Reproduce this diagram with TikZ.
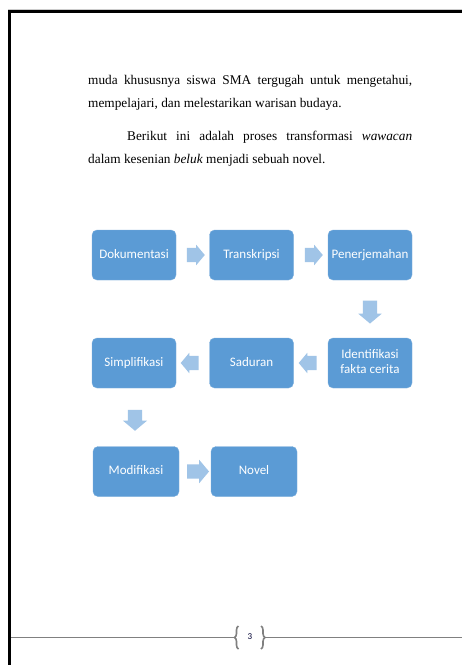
\documentclass[tikz,border=0pt]{standalone}
\usepackage{fontspec}
\setmainfont{Liberation Serif}
\newfontfamily\boxfont{Carlito}
\usetikzlibrary{positioning, calc, shapes.arrows, decorations.pathreplacing}

\definecolor{boxblue}{RGB}{91,155,213}
\definecolor{arrowblue}{RGB}{160,196,231}
\definecolor{rulegray}{RGB}{128,128,128}
\newcommand{\boxstrut}{\rule[-2.5pt]{0pt}{11pt}}

\begin{document}
\begin{tikzpicture}[x=1pt, y=-1pt,
		stepbox/.style={align=center, fill=boxblue, draw=boxblue!80!white, line width=0.4pt,
			rounded corners=5pt, minimum width=84pt, minimum height=50pt, inner sep=1pt,
			text=white, font=\boxfont\fontsize{13}{15}\selectfont,
			execute at begin node=\boxstrut, execute at end node=\boxstrut},
		blockarrow/.style={single arrow, fill=arrowblue, draw=none, inner xsep=0pt, inner ysep=7pt,
			minimum height=18pt, minimum width=0pt, single arrow head extend=3pt,
			single arrow tip angle=100},
		bodyline/.style={anchor=base west, inner sep=0pt, font=\fontsize{13.3}{16}\selectfont},
	]
		\useasboundingbox (0, 0) rectangle (462, 665);
		\fill[white] (0, 0) rectangle (462, 665);
		% page frame
		\draw[gray!40, line width=0.8pt] (8, 9) -- (462, 9);
		\draw[black, line width=2.6pt] (8, 11.5) -- (462, 11.5);
		\draw[black, line width=3pt] (9.5, 10) -- (9.5, 665);

		% body text
		\node[bodyline] (l1) at (88, 84) {\makebox[324pt][s]{muda khususnya siswa SMA tergugah untuk mengetahui,}};
		\node[bodyline] (l2) at (88, 107) {mempelajari, dan melestarikan warisan budaya.};
		\node[bodyline] (l3) at (127, 140) {\makebox[285pt][s]{Berikut ini adalah proses transformasi \textit{wawacan}}};
		\node[bodyline] (l4) at (88, 163) {dalam kesenian \textit{beluk} menjadi sebuah novel.};

		% process boxes
		\node[stepbox] (dok) at (134, 255) {Dokumentasi};
		\node[stepbox] (trans) at (251.5, 255) {Transkripsi};
		\node[stepbox] (terj) at (370, 255) {Penerjemahan};
		\node[stepbox] (ident) at (370, 363) {Identifikasi\\fakta cerita};
		\node[stepbox] (sadur) at (251.5, 363) {Saduran};
		\node[stepbox] (simpl) at (134, 363) {Simplifikasi};
		\node[stepbox, minimum width=86pt] (modif) at (136, 471.5) {Modifikasi};
		\node[stepbox, minimum width=86pt] (novel) at (254, 471.5) {Novel};

		% arrows between boxes
		\node[blockarrow] (a1) at ($(dok.east)!0.5!(trans.west)$) {};
		\node[blockarrow] (a2) at ($(trans.east)!0.5!(terj.west)$) {};
		\node[blockarrow, rotate=-90, minimum height=23pt, single arrow head extend=4.5pt] (a3) at ($(terj.south)!0.5!(ident.north)$) {};
		\node[blockarrow, rotate=180] (a4) at ($(ident.west)!0.5!(sadur.east)$) {};
		\node[blockarrow, rotate=180] (a5) at ($(sadur.west)!0.5!(simpl.east)$) {};
		\node[blockarrow, rotate=-90, minimum height=21pt, single arrow head extend=5pt] (a6) at ($(simpl.south)!0.5!(modif.north)$) {};
		\node[blockarrow, minimum height=22pt, single arrow head extend=4.5pt] (a7) at ($(modif.east)!0.5!(novel.west)$) {};

		% footer
		\node[inner sep=0pt, font=\boxfont\fontsize{9}{10}\selectfont, text=black!80!blue] (pgnum) at (250, 637) {3};
		\coordinate (lbtop) at (238.5, 626);
		\coordinate (lbbot) at (238.5, 649);
		\coordinate (rbtop) at (261, 626);
		\coordinate (rbbot) at (261, 649);
		\coordinate (lbtip) at (234.5, 637);
		\coordinate (rbtip) at (265, 637);
		\coordinate (footl) at (11, 637);
		\coordinate (footr) at (462, 637);
		\draw[rulegray, line width=1.6pt, decorate, decoration={brace, amplitude=4pt}] (lbbot) -- (lbtop);
		\draw[rulegray, line width=1.6pt, decorate, decoration={brace, amplitude=4pt}] (rbtop) -- (rbbot);
		\draw[rulegray, line width=1pt] (footl) -- (lbtip);
		\draw[rulegray, line width=1pt] (rbtip) -- (footr);
	\end{tikzpicture}
\end{document}
